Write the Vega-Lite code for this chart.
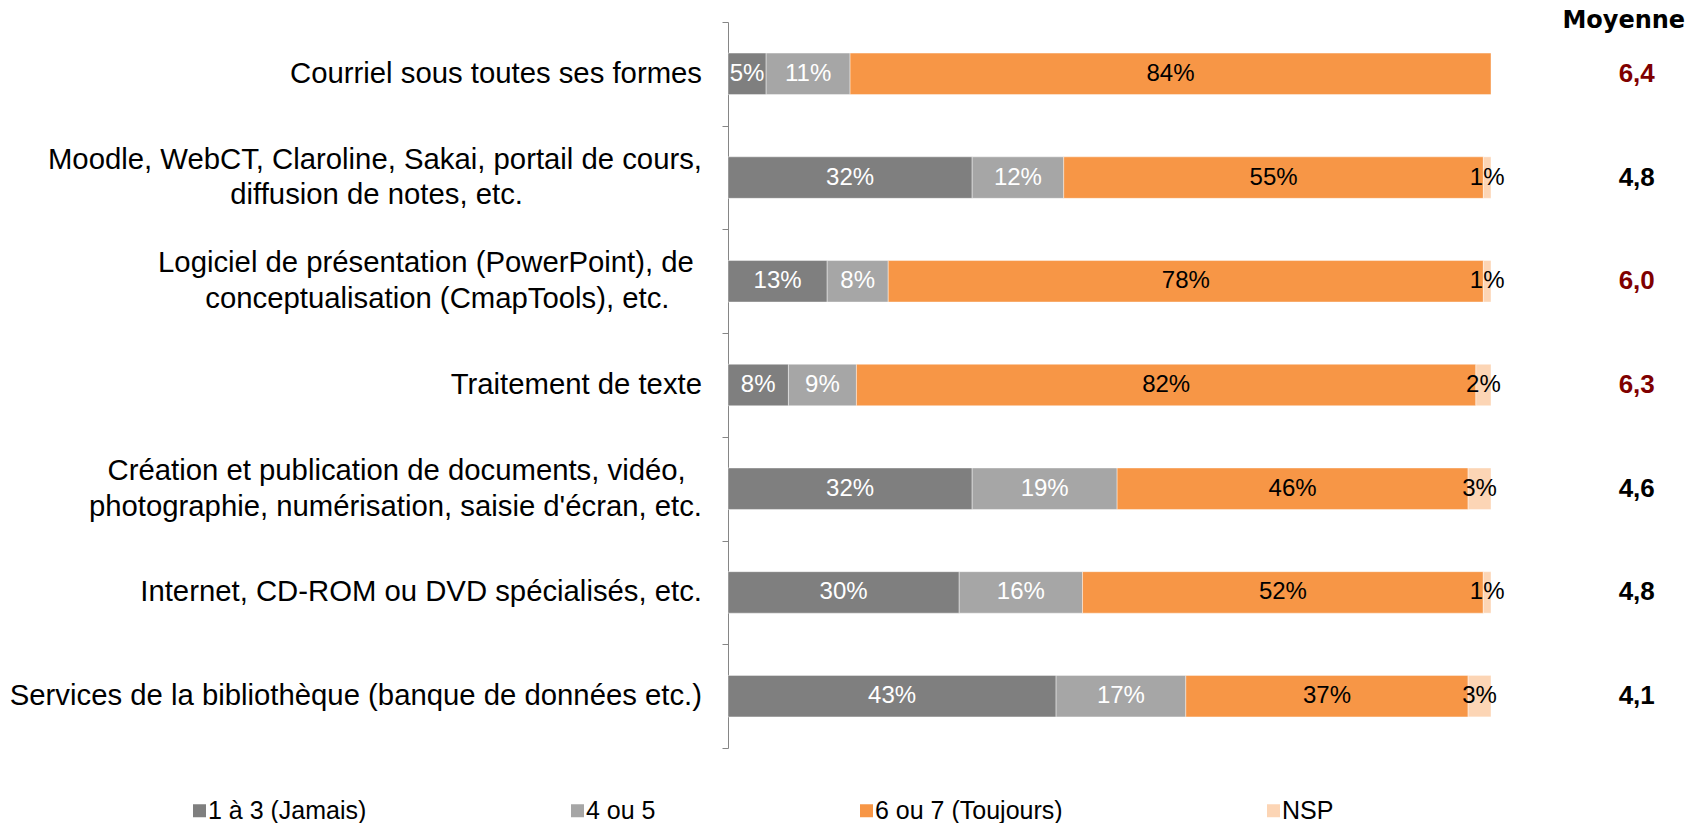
{
  "$schema": "https://vega.github.io/schema/vega-lite/v6.json",
  "autosize": "none",
  "width": 763,
  "height": 726,
  "padding": {"left": 728, "top": 22, "right": 202, "bottom": 75},
  "background": "#ffffff",
  "config": {
    "view": {"stroke": null},
    "font": "Liberation Sans",
    "locale": {"number": {"decimal": ",", "thousands": " ", "grouping": [3], "currency": ["", " €"]}}
  },
  "datasets": {
    "bars": [
      {"item": "Courriel", "serie": "1 à 3 (Jamais)", "pct": 0.05},
      {"item": "Courriel", "serie": "4 ou 5", "pct": 0.11},
      {"item": "Courriel", "serie": "6 ou 7 (Toujours)", "pct": 0.84},
      {"item": "Moodle", "serie": "1 à 3 (Jamais)", "pct": 0.32},
      {"item": "Moodle", "serie": "4 ou 5", "pct": 0.12},
      {"item": "Moodle", "serie": "6 ou 7 (Toujours)", "pct": 0.55},
      {"item": "Moodle", "serie": "NSP", "pct": 0.01},
      {"item": "Logiciel", "serie": "1 à 3 (Jamais)", "pct": 0.13},
      {"item": "Logiciel", "serie": "4 ou 5", "pct": 0.08},
      {"item": "Logiciel", "serie": "6 ou 7 (Toujours)", "pct": 0.78},
      {"item": "Logiciel", "serie": "NSP", "pct": 0.01},
      {"item": "Traitement", "serie": "1 à 3 (Jamais)", "pct": 0.08},
      {"item": "Traitement", "serie": "4 ou 5", "pct": 0.09},
      {"item": "Traitement", "serie": "6 ou 7 (Toujours)", "pct": 0.82},
      {"item": "Traitement", "serie": "NSP", "pct": 0.02},
      {"item": "Création", "serie": "1 à 3 (Jamais)", "pct": 0.32},
      {"item": "Création", "serie": "4 ou 5", "pct": 0.19},
      {"item": "Création", "serie": "6 ou 7 (Toujours)", "pct": 0.46},
      {"item": "Création", "serie": "NSP", "pct": 0.03},
      {"item": "Internet", "serie": "1 à 3 (Jamais)", "pct": 0.30},
      {"item": "Internet", "serie": "4 ou 5", "pct": 0.16},
      {"item": "Internet", "serie": "6 ou 7 (Toujours)", "pct": 0.52},
      {"item": "Internet", "serie": "NSP", "pct": 0.01},
      {"item": "Services", "serie": "1 à 3 (Jamais)", "pct": 0.43},
      {"item": "Services", "serie": "4 ou 5", "pct": 0.17},
      {"item": "Services", "serie": "6 ou 7 (Toujours)", "pct": 0.37},
      {"item": "Services", "serie": "NSP", "pct": 0.03}
    ],
    "etiquettes": [
      {"item": "Courriel", "lignes": ["Courriel sous toutes ses formes"]},
      {"item": "Moodle", "lignes": ["Moodle, WebCT, Claroline, Sakai, portail de cours,", "diffusion de notes, etc.\u00a0\u00a0\u00a0\u00a0\u00a0\u00a0\u00a0\u00a0\u00a0\u00a0\u00a0\u00a0\u00a0\u00a0\u00a0\u00a0\u00a0\u00a0\u00a0\u00a0\u00a0\u00a0\u200b"]},
      {"item": "Logiciel", "lignes": ["Logiciel de présentation (PowerPoint), de\u00a0\u200b", "conceptualisation (CmapTools), etc.\u00a0\u00a0\u00a0\u00a0\u200b"]},
      {"item": "Traitement", "lignes": ["Traitement de texte"]},
      {"item": "Création", "lignes": ["Création et publication de documents, vidéo,\u00a0\u00a0\u200b", "photographie, numérisation, saisie d'écran, etc."]},
      {"item": "Internet", "lignes": ["Internet, CD-ROM ou DVD spécialisés, etc."]},
      {"item": "Services", "lignes": ["Services de la bibliothèque (banque de données etc.)"]}
    ],
    "moy": [
      {"item": "Courriel", "moyenne": 6.4},
      {"item": "Moodle", "moyenne": 4.8},
      {"item": "Logiciel", "moyenne": 6.0},
      {"item": "Traitement", "moyenne": 6.3},
      {"item": "Création", "moyenne": 4.6},
      {"item": "Internet", "moyenne": 4.8},
      {"item": "Services", "moyenne": 4.1}
    ],
    "entete": [
      {"item": "Courriel", "titre": "Moyenne"}
    ]
  },
  "layer": [
    {
      "data": {"name": "bars"},
      "mark": {"type": "bar", "height": {"band": 0.4}, "stroke": "#ffffff", "strokeWidth": 0.6, "strokeOpacity": 0.7},
      "encoding": {
        "y": {
          "field": "item", "type": "nominal",
          "scale": {"domain": ["Courriel", "Moodle", "Logiciel", "Traitement", "Création", "Internet", "Services"], "paddingInner": 0, "paddingOuter": 0},
          "axis": {
            "title": null,
            "labels": false,
            "tickSize": 6,
            "tickColor": "#868686",
            "domainColor": "#868686",
            "tickBand": "extent",
            "grid": false
          }
        },
        "x": {"field": "pct", "type": "quantitative", "stack": "normalize", "scale": {"domain": [0, 1]}, "axis": null},
        "color": {
          "field": "serie", "type": "nominal",
          "scale": {"domain": ["1 à 3 (Jamais)", "4 ou 5", "6 ou 7 (Toujours)", "NSP"], "range": ["#7f7f7f", "#a6a6a6", "#f79646", "#fcd5b5"]},
          "legend": {
            "title": null,
            "orient": "none",
            "legendX": -541,
            "legendY": 776,
            "direction": "horizontal",
            "padding": 0,
            "symbolType": "square",
            "symbolSize": 169,
            "symbolStrokeWidth": 0,
            "labelFont": "Liberation Sans",
            "labelFontSize": 25,
            "labelColor": "#000000",
            "labelOffset": -4,
            "columnPadding": 198,
            "labelLimit": 400
          }
        },
        "order": {"field": "serie", "type": "ordinal"}
      }
    },
    {
      "data": {"name": "etiquettes"},
      "transform": [{"filter": "length(datum.lignes) === 1"}],
      "mark": {"type": "text", "fontSize": 29.3, "font": "Liberation Sans", "baseline": "middle", "align": "right", "color": "#000000"},
      "encoding": {
        "y": {"field": "item", "type": "nominal"},
        "x": {"datum": -0.03408, "type": "quantitative", "scale": {"domain": [0, 1]}},
        "text": {"field": "lignes"}
      }
    },
    {
      "data": {"name": "etiquettes"},
      "transform": [{"filter": "length(datum.lignes) > 1"}],
      "mark": {"type": "text", "fontSize": 29.3, "font": "Liberation Sans", "baseline": "middle", "align": "right", "lineHeight": 35.6, "dy": -17.8, "color": "#000000"},
      "encoding": {
        "y": {"field": "item", "type": "nominal"},
        "x": {"datum": -0.03408, "type": "quantitative", "scale": {"domain": [0, 1]}},
        "text": {"field": "lignes"}
      }
    },
    {
      "data": {"name": "bars"},
      "mark": {"type": "text", "fontSize": 24, "font": "Liberation Sans", "baseline": "middle", "align": "center"},
      "encoding": {
        "y": {"field": "item", "type": "nominal"},
        "x": {"field": "pct", "type": "quantitative", "stack": "normalize", "bandPosition": 0.5, "scale": {"domain": [0, 1]}},
        "text": {"field": "pct", "type": "quantitative", "format": ".0%"},
        "color": {"condition": {"test": "datum.serie === '1 à 3 (Jamais)' || datum.serie === '4 ou 5'", "value": "#ffffff"}, "value": "#000000"},
        "order": {"field": "serie", "type": "ordinal"}
      }
    },
    {
      "data": {"name": "moy"},
      "mark": {"type": "text", "fontSize": 26, "fontWeight": "bold", "font": "Liberation Sans", "baseline": "middle", "align": "center"},
      "encoding": {
        "y": {"field": "item", "type": "nominal"},
        "x": {"datum": 1.191, "type": "quantitative", "scale": {"domain": [0, 1]}},
        "text": {"field": "moyenne", "type": "quantitative", "format": ".1f"},
        "color": {"condition": {"test": "datum.moyenne >= 6", "value": "#7f0000"}, "value": "#000000"}
      }
    },
    {
      "data": {"name": "entete"},
      "mark": {"type": "text", "fontSize": 24, "fontWeight": "bold", "font": "DejaVu Sans", "baseline": "middle", "align": "center", "dy": -53, "color": "#000000"},
      "encoding": {
        "y": {"field": "item", "type": "nominal"},
        "x": {"datum": 1.174, "type": "quantitative", "scale": {"domain": [0, 1]}},
        "text": {"field": "titre", "type": "nominal"}
      }
    }
  ]
}
